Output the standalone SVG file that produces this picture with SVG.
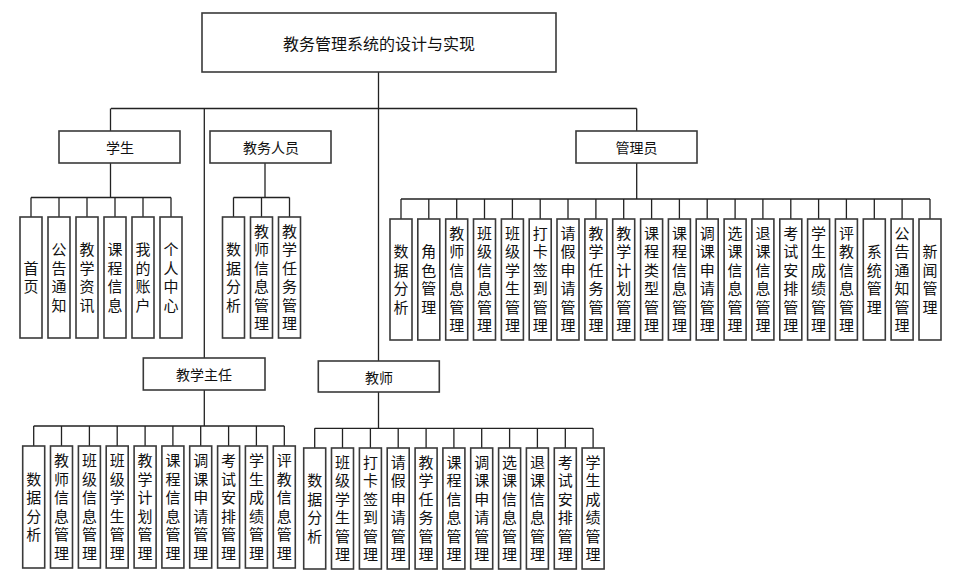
<svg xmlns="http://www.w3.org/2000/svg" width="961" height="583" viewBox="0 0 961 583">
<style>
rect{fill:#fff;stroke:#3a3a3a;stroke-width:1.6}
text{font-family:"Noto Sans CJK SC","Noto Sans",sans-serif;fill:#111;text-anchor:middle;dominant-baseline:central}
.t{font-size:16px}
.h{font-size:14px}
.v{font-size:15px;writing-mode:vertical-rl;letter-spacing:3.5px}
#c path{fill:none;stroke:#222;stroke-width:1.3}
</style>
<rect width="961" height="583" style="fill:#fff;stroke:none"/>
<g id="c">
<path d="M378.5 72V361M111 108.5H636.7M110.5 108.5V131M204.3 108.5V358M636.7 108.5V131"/>
<path d="M110.5 163V197.5M31 197.5H171M31 197.5V217M59 197.5V217M87 197.5V217M115 197.5V217M143 197.5V217M171 197.5V217"/>
<path d="M265 163V197.5M233.5 197.5H289.5M233.5 197.5V217M261.5 197.5V217M289.5 197.5V217"/>
<path d="M636.7 163V199M401 199H930M401 199V219M428.8 199V219M456.7 199V219M484.5 199V219M512.4 199V219M540.2 199V219M568 199V219M595.9 199V219M623.7 199V219M651.6 199V219M679.4 199V219M707.2 199V219M735.1 199V219M762.9 199V219M790.8 199V219M818.6 199V219M846.4 199V219M874.3 199V219M902.1 199V219M930 199V219"/>
<path d="M204.3 390V426M33.7 426H284.3M33.7 426V446M61.5 426V446M89.4 426V446M117.2 426V446M145.1 426V446M172.9 426V446M200.7 426V446M228.6 426V446M256.4 426V446M284.3 426V446"/>
<path d="M378.5 392V428.3M314.7 428.3H593.1M314.7 428.3V448M342.5 428.3V448M370.4 428.3V448M398.2 428.3V448M426.1 428.3V448M453.9 428.3V448M481.7 428.3V448M509.6 428.3V448M537.4 428.3V448M565.3 428.3V448M593.1 428.3V448"/>
</g>
<g id="root"><rect x="202" y="13" width="354" height="59"/><text class="t" x="379" y="42.5">教务管理系统的设计与实现</text></g>
<g id="student"><rect x="59" y="131" width="121" height="32"/><text class="h" x="120" y="147">学生</text></g>
<g id="staff"><rect x="210" y="131" width="121" height="32"/><text class="h" x="271" y="147">教务人员</text></g>
<g id="admin"><rect x="576" y="131" width="121" height="32"/><text class="h" x="636.5" y="147">管理员</text></g>
<g id="dean"><rect x="143.3" y="358" width="121.7" height="32"/><text class="h" x="204" y="374">教学主任</text></g>
<g id="teacher"><rect x="318.3" y="361" width="121" height="31"/><text class="h" x="379" y="376.5">教师</text></g>

<g id="s1" transform="translate(20,217)"><rect width="22" height="121"/><text class="v" x="11" y="62.25">首页</text></g>
<g id="s2" transform="translate(48,217)"><rect width="22" height="121"/><text class="v" x="11" y="62.25">公告通知</text></g>
<g id="s3" transform="translate(76,217)"><rect width="22" height="121"/><text class="v" x="11" y="62.25">教学资讯</text></g>
<g id="s4" transform="translate(104,217)"><rect width="22" height="121"/><text class="v" x="11" y="62.25">课程信息</text></g>
<g id="s5" transform="translate(132,217)"><rect width="22" height="121"/><text class="v" x="11" y="62.25">我的账户</text></g>
<g id="s6" transform="translate(160,217)"><rect width="22" height="121"/><text class="v" x="11" y="62.25">个人中心</text></g>

<g id="w1" transform="translate(222.5,217)"><rect width="22" height="121"/><text class="v" x="11" y="62.25">数据分析</text></g>
<g id="w2" transform="translate(250.5,217)"><rect width="22" height="121"/><text class="v" x="11" y="62.25">教师信息管理</text></g>
<g id="w3" transform="translate(278.5,217)"><rect width="22" height="121"/><text class="v" x="11" y="62.25">教学任务管理</text></g>

<g id="a1" transform="translate(390,219)"><rect width="22" height="121"/><text class="v" x="11" y="62.25">数据分析</text></g>
<g id="a2" transform="translate(417.8,219)"><rect width="22" height="121"/><text class="v" x="11" y="62.25">角色管理</text></g>
<g id="a3" transform="translate(445.7,219)"><rect width="22" height="121"/><text class="v" x="11" y="62.25">教师信息管理</text></g>
<g id="a4" transform="translate(473.5,219)"><rect width="22" height="121"/><text class="v" x="11" y="62.25">班级信息管理</text></g>
<g id="a5" transform="translate(501.4,219)"><rect width="22" height="121"/><text class="v" x="11" y="62.25">班级学生管理</text></g>
<g id="a6" transform="translate(529.2,219)"><rect width="22" height="121"/><text class="v" x="11" y="62.25">打卡签到管理</text></g>
<g id="a7" transform="translate(557,219)"><rect width="22" height="121"/><text class="v" x="11" y="62.25">请假申请管理</text></g>
<g id="a8" transform="translate(584.9,219)"><rect width="22" height="121"/><text class="v" x="11" y="62.25">教学任务管理</text></g>
<g id="a9" transform="translate(612.7,219)"><rect width="22" height="121"/><text class="v" x="11" y="62.25">教学计划管理</text></g>
<g id="a10" transform="translate(640.6,219)"><rect width="22" height="121"/><text class="v" x="11" y="62.25">课程类型管理</text></g>
<g id="a11" transform="translate(668.4,219)"><rect width="22" height="121"/><text class="v" x="11" y="62.25">课程信息管理</text></g>
<g id="a12" transform="translate(696.2,219)"><rect width="22" height="121"/><text class="v" x="11" y="62.25">调课申请管理</text></g>
<g id="a13" transform="translate(724.1,219)"><rect width="22" height="121"/><text class="v" x="11" y="62.25">选课信息管理</text></g>
<g id="a14" transform="translate(751.9,219)"><rect width="22" height="121"/><text class="v" x="11" y="62.25">退课信息管理</text></g>
<g id="a15" transform="translate(779.8,219)"><rect width="22" height="121"/><text class="v" x="11" y="62.25">考试安排管理</text></g>
<g id="a16" transform="translate(807.6,219)"><rect width="22" height="121"/><text class="v" x="11" y="62.25">学生成绩管理</text></g>
<g id="a17" transform="translate(835.4,219)"><rect width="22" height="121"/><text class="v" x="11" y="62.25">评教信息管理</text></g>
<g id="a18" transform="translate(863.3,219)"><rect width="22" height="121"/><text class="v" x="11" y="62.25">系统管理</text></g>
<g id="a19" transform="translate(891.1,219)"><rect width="22" height="121"/><text class="v" x="11" y="62.25">公告通知管理</text></g>
<g id="a20" transform="translate(919,219)"><rect width="22" height="121"/><text class="v" x="11" y="62.25">新闻管理</text></g>

<g id="d1" transform="translate(22.7,446)"><rect width="22" height="122"/><text class="v" x="11" y="62.75">数据分析</text></g>
<g id="d2" transform="translate(50.5,446)"><rect width="22" height="122"/><text class="v" x="11" y="62.75">教师信息管理</text></g>
<g id="d3" transform="translate(78.4,446)"><rect width="22" height="122"/><text class="v" x="11" y="62.75">班级信息管理</text></g>
<g id="d4" transform="translate(106.2,446)"><rect width="22" height="122"/><text class="v" x="11" y="62.75">班级学生管理</text></g>
<g id="d5" transform="translate(134.1,446)"><rect width="22" height="122"/><text class="v" x="11" y="62.75">教学计划管理</text></g>
<g id="d6" transform="translate(161.9,446)"><rect width="22" height="122"/><text class="v" x="11" y="62.75">课程信息管理</text></g>
<g id="d7" transform="translate(189.7,446)"><rect width="22" height="122"/><text class="v" x="11" y="62.75">调课申请管理</text></g>
<g id="d8" transform="translate(217.6,446)"><rect width="22" height="122"/><text class="v" x="11" y="62.75">考试安排管理</text></g>
<g id="d9" transform="translate(245.4,446)"><rect width="22" height="122"/><text class="v" x="11" y="62.75">学生成绩管理</text></g>
<g id="d10" transform="translate(273.3,446)"><rect width="22" height="122"/><text class="v" x="11" y="62.75">评教信息管理</text></g>

<g id="t1" transform="translate(303.7,448)"><rect width="22" height="121"/><text class="v" x="11" y="62.25">数据分析</text></g>
<g id="t2" transform="translate(331.5,448)"><rect width="22" height="121"/><text class="v" x="11" y="62.25">班级学生管理</text></g>
<g id="t3" transform="translate(359.4,448)"><rect width="22" height="121"/><text class="v" x="11" y="62.25">打卡签到管理</text></g>
<g id="t4" transform="translate(387.2,448)"><rect width="22" height="121"/><text class="v" x="11" y="62.25">请假申请管理</text></g>
<g id="t5" transform="translate(415.1,448)"><rect width="22" height="121"/><text class="v" x="11" y="62.25">教学任务管理</text></g>
<g id="t6" transform="translate(442.9,448)"><rect width="22" height="121"/><text class="v" x="11" y="62.25">课程信息管理</text></g>
<g id="t7" transform="translate(470.7,448)"><rect width="22" height="121"/><text class="v" x="11" y="62.25">调课申请管理</text></g>
<g id="t8" transform="translate(498.6,448)"><rect width="22" height="121"/><text class="v" x="11" y="62.25">选课信息管理</text></g>
<g id="t9" transform="translate(526.4,448)"><rect width="22" height="121"/><text class="v" x="11" y="62.25">退课信息管理</text></g>
<g id="t10" transform="translate(554.3,448)"><rect width="22" height="121"/><text class="v" x="11" y="62.25">考试安排管理</text></g>
<g id="t11" transform="translate(582.1,448)"><rect width="22" height="121"/><text class="v" x="11" y="62.25">学生成绩管理</text></g>
</svg>
